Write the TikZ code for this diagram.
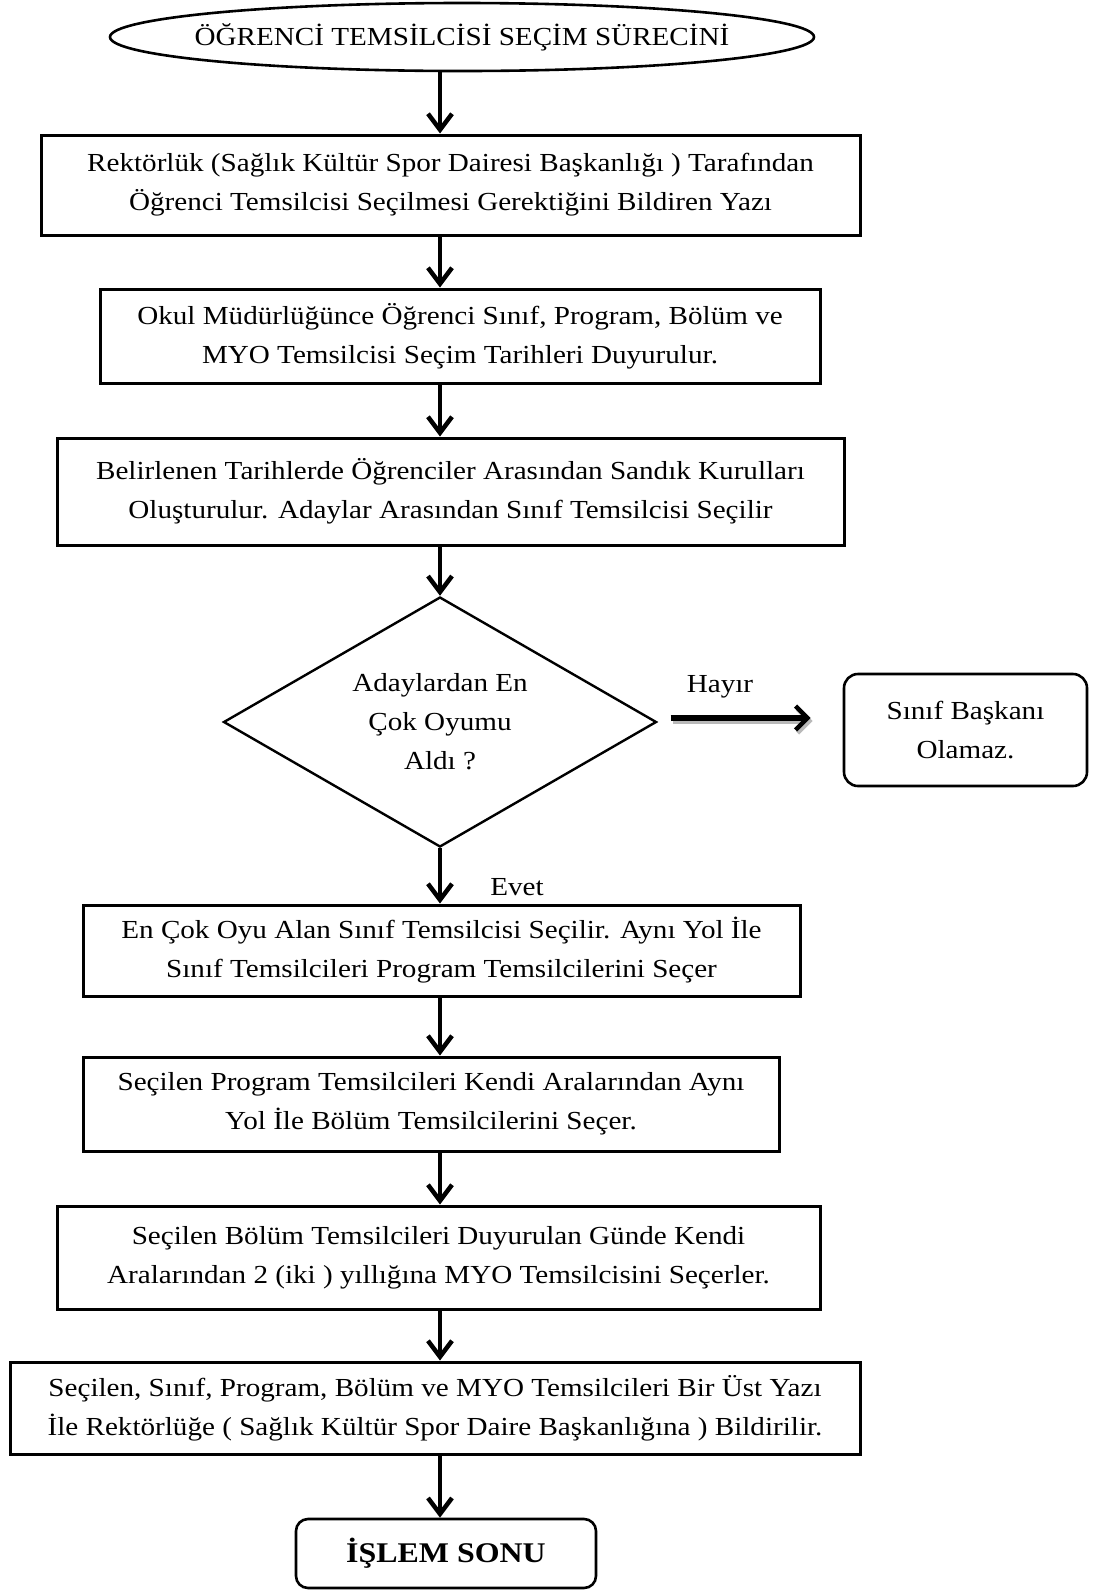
\documentclass[tikz,border=0pt]{standalone}
\usepackage{fontspec}
\setmainfont{Liberation Serif}[FakeStretch=1.12]
\usetikzlibrary{arrows.meta,shapes.geometric}
\begin{document}
\begin{tikzpicture}[x=1pt,y=-1pt,
  every node/.style={font=\fontsize{26}{39}\selectfont, align=center, inner sep=0pt},
  stepbox/.style={draw, line width=3pt, rectangle},
  roundbox/.style={draw, line width=2.6pt, rectangle, rounded corners=14pt},
  ovalline/.style={line width=2.6pt},
  decision/.style={draw, line width=2.4pt, diamond, aspect=1.73},
  arr/.style={line width=4.5pt, -{Straight Barb[length=16pt,width=24pt,line width=4.5pt]}},
  sidearr/.style={line width=6.5pt, -{Straight Barb[length=12pt,width=24pt,line width=4.5pt]}},
  lbl/.style={font=\fontsize{26}{30}\selectfont}]
\useasboundingbox (0,0) rectangle (1108,1591);

\coordinate (axis) at (440,0);

% start terminal: text block plus its oval outline
\node[minimum width=704, minimum height=68] (el) at (462,37)
  {ÖĞRENCİ TEMSİLCİSİ SEÇİM SÜRECİNİ};
\draw[ovalline] (el.center) ellipse [x radius=352, y radius=34];

\node[stepbox, minimum width=819, minimum height=100] (b1) at (450.5,185)
  {Rektörlük (Sağlık Kültür Spor Dairesi Başkanlığı ) Tarafından\\Öğrenci Temsilcisi Seçilmesi Gerektiğini Bildiren Yazı};
\node[stepbox, minimum width=720, minimum height=94] (b2) at (460,336)
  {Okul Müdürlüğünce Öğrenci Sınıf, Program, Bölüm ve\\MYO Temsilcisi Seçim Tarihleri Duyurulur.};
\node[stepbox, minimum width=787, minimum height=107] (b3) at (450.5,491.5)
  {Belirlenen Tarihlerde Öğrenciler Arasından Sandık Kurulları\\Oluşturulur. Adaylar Arasından Sınıf Temsilcisi Seçilir};
\node[decision, minimum width=433, minimum height=250] (dm) at (440,722)
  {Adaylardan En\\Çok Oyumu\\Aldı ?};
\node[roundbox, minimum width=243, minimum height=112] (sb) at (965.5,730)
  {Sınıf Başkanı\\Olamaz.};
\node[stepbox, minimum width=717, minimum height=91] (b4) at (441.5,950.5)
  {En Çok Oyu Alan Sınıf Temsilcisi Seçilir. Aynı Yol İle\\Sınıf Temsilcileri Program Temsilcilerini Seçer};
\node[stepbox, minimum width=696, minimum height=94] (b5) at (431,1104)
  {Seçilen Program Temsilcileri Kendi Aralarından Aynı\\Yol İle Bölüm Temsilcilerini Seçer.};
\node[stepbox, minimum width=763, minimum height=103] (b6) at (438.5,1257.5)
  {Seçilen Bölüm Temsilcileri Duyurulan Günde Kendi\\Aralarından 2 (iki ) yıllığına MYO Temsilcisini Seçerler.};
\node[stepbox, minimum width=850, minimum height=92] (b7) at (435,1408)
  {Seçilen, Sınıf, Program, Bölüm ve MYO Temsilcileri Bir Üst Yazı\\İle Rektörlüğe ( Sağlık Kültür Spor Daire Başkanlığına ) Bildirilir.};
\node[roundbox, rounded corners=12pt, minimum width=300, minimum height=69, font=\fontsize{28.5}{32}\selectfont\bfseries] (end) at (446,1553.5)
  {İŞLEM SONU};

\node[lbl] (hayir) at (720,687) {Hayır};
\node[lbl] (evet) at (517,887) {Evet};

% main flow
\draw[arr] (axis |- el.south) -- (axis |- b1.north);
\draw[arr] (axis |- b1.south) -- (axis |- b2.north);
\draw[arr] (axis |- b2.south) -- (axis |- b3.north);
\draw[arr] (axis |- b3.south) -- (dm.north);
\draw[arr] (dm.south) -- (axis |- b4.north);
\draw[arr] (axis |- b4.south) -- (axis |- b5.north);
\draw[arr] (axis |- b5.south) -- (axis |- b6.north);
\draw[arr] (axis |- b6.south) -- (axis |- b7.north);
\draw[arr] (axis |- b7.south) -- (axis |- end.north);

% "no" branch with its soft shadow
\coordinate (hy) at ([yshift=4pt]dm.east);
\coordinate (hys) at ([xshift=2pt,yshift=1pt]dm.east);
\draw[sidearr, gray!55] ([xshift=13pt]hys) -- ([xshift=-30pt]sb.west |- hys);
\draw[sidearr] ([xshift=13pt]hy) -- ([xshift=-32pt]sb.west |- hy);
\end{tikzpicture}
\end{document}
